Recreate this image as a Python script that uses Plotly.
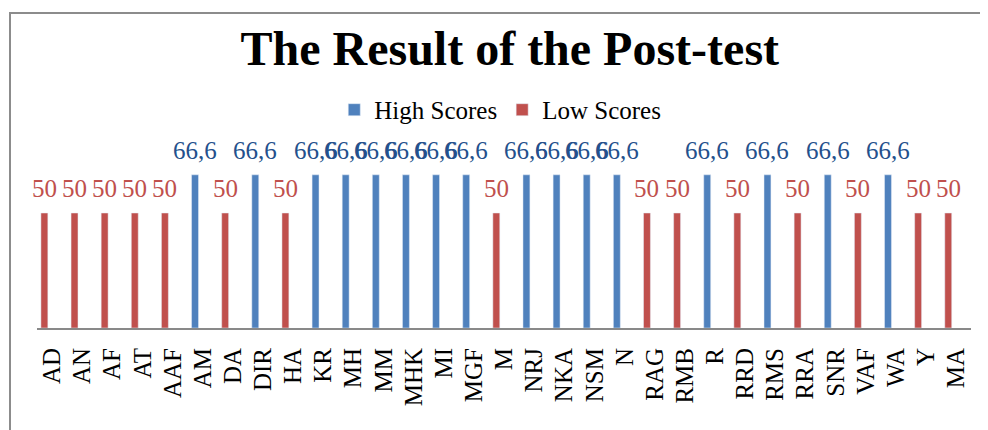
import plotly.graph_objects as go

students = ["AD", "AN", "AF", "AT", "AAF", "AM", "DA", "DIR", "HA", "KR", "MH", "MM", "MHK",
            "MI", "MGF", "M", "NRJ", "NKA", "NSM", "N", "RAG", "RMB", "R", "RRD", "RMS", "RRA",
            "SNR", "VAF", "WA", "Y", "MA"]
high_scores = [None, None, None, None, None, 66.6, None, 66.6, None, 66.6, 66.6, 66.6, 66.6,
               66.6, 66.6, None, 66.6, 66.6, 66.6, 66.6, None, None, 66.6, None, 66.6, None,
               66.6, None, 66.6, None, None]
low_scores = [50, 50, 50, 50, 50, None, 50, None, 50, None, None, None, None,
              None, None, 50, None, None, None, None, 50, 50, None, 50, None, 50,
              None, 50, None, 50, 50]

BLUE = "#4F81BD"
RED = "#C0504D"
BLUE_TXT = "#24508C"
SERIF = "Liberation Serif"

BAR_W = 0.23
BAR_OFF = -0.37

fig = go.Figure()
fig.add_trace(go.Bar(name="High Scores", x=students, y=high_scores, marker_color=BLUE,
                     width=BAR_W, offset=BAR_OFF))
fig.add_trace(go.Bar(name="Low Scores", x=students, y=low_scores, marker_color=RED,
                     width=BAR_W, offset=BAR_OFF))

annotations = []
for i, (h, l) in enumerate(zip(high_scores, low_scores)):
    xc = i + BAR_OFF + BAR_W / 2
    if h is not None:
        annotations.append(dict(x=xc, y=h, xref="x", yref="y", text=str(h).replace(".", ","),
                                showarrow=False, yanchor="bottom", yshift=9,
                                font=dict(family=SERIF, size=25, color=BLUE_TXT)))
    if l is not None:
        annotations.append(dict(x=xc, y=l, xref="x", yref="y", text=str(l),
                                showarrow=False, yanchor="bottom", yshift=9,
                                font=dict(family=SERIF, size=25, color=RED)))

fig.update_layout(
    width=980, height=422,
    margin=dict(l=29, r=17, t=136, b=102),
    paper_bgcolor="white", plot_bgcolor="white",
    barmode="overlay",
    title=dict(text="<b>The Result of the Post-test</b>", x=0.512, xanchor="center",
               y=1 - 40 / 422, yanchor="middle", yref="container",
               font=dict(family=SERIF, size=48, color="black")),
    legend=dict(orientation="h", x=0.496, xanchor="center", y=1.185, yanchor="middle",
                font=dict(family=SERIF, size=25, color="black"), itemwidth=30,
                traceorder="normal", bgcolor="rgba(0,0,0,0)"),
    xaxis=dict(type="category", showline=True, linecolor="#898989", linewidth=2,
               ticks="", showgrid=False, tickangle=-90, ticklabelstandoff=8,
               tickfont=dict(family=SERIF, size=25, color="black"),
               range=[-0.5, len(students) - 0.5]),
    yaxis=dict(visible=False, range=[0, 80], showgrid=False, zeroline=False),
    annotations=annotations,
    shapes=[dict(type="rect", xref="paper", yref="paper", x0=-0.0289, x1=1.05, y0=-0.7, y1=1.712,
                 line=dict(color="#8C8C8C", width=2), layer="below")],
)

fig.write_html("out.html")
